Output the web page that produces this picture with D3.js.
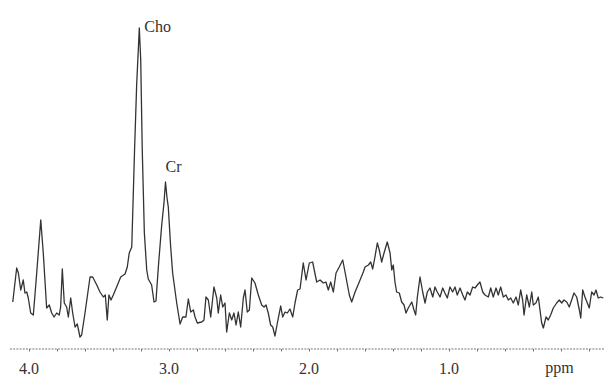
<!DOCTYPE html>
<html>
<head>
<meta charset="utf-8">
<script src="https://cdn.jsdelivr.net/npm/d3@7"></script>
<style>
  html, body { margin: 0; padding: 0; background: #fff; }
  svg { display: block; }
  text { font-family: "Liberation Serif", "Times New Roman", serif; fill: #333; }
</style>
</head>
<body>
<figure id="spectrum" style="margin:0"></figure>
<script>
// chemical shift (ppm) and signal intensity (arbitrary units)
const ppm = [4.116, 4.088, 4.076, 4.059, 4.041, 4.029, 4.016, 4.005, 3.988, 3.969,
  3.945, 3.916, 3.898, 3.874, 3.855, 3.838, 3.821, 3.802, 3.784, 3.774,
  3.762, 3.748, 3.731, 3.719, 3.702, 3.688, 3.671, 3.655, 3.636, 3.624,
  3.600, 3.584, 3.564, 3.545, 3.516, 3.493, 3.469, 3.455, 3.441, 3.429,
  3.414, 3.398, 3.374, 3.345, 3.314, 3.298, 3.284, 3.266, 3.246, 3.231,
  3.212, 3.202, 3.191, 3.176, 3.159, 3.148, 3.124, 3.107, 3.093, 3.074,
  3.052, 3.036, 3.025, 3.014, 3.005, 2.989, 2.974, 2.945, 2.921, 2.902,
  2.879, 2.862, 2.845, 2.826, 2.814, 2.798, 2.766, 2.750, 2.736, 2.719,
  2.702, 2.679, 2.659, 2.648, 2.631, 2.616, 2.600, 2.588, 2.569, 2.552,
  2.536, 2.521, 2.505, 2.488, 2.469, 2.457, 2.441, 2.426, 2.409, 2.386,
  2.362, 2.338, 2.321, 2.307, 2.291, 2.274, 2.259, 2.243, 2.226, 2.202,
  2.188, 2.171, 2.155, 2.136, 2.116, 2.100, 2.081, 2.064, 2.041, 2.021,
  1.998, 1.974, 1.945, 1.921, 1.898, 1.879, 1.862, 1.845, 1.826, 1.807,
  1.784, 1.759, 1.736, 1.712, 1.695, 1.671, 1.641, 1.612, 1.600, 1.576,
  1.559, 1.545, 1.529, 1.512, 1.498, 1.481, 1.464, 1.441, 1.421, 1.409,
  1.398, 1.386, 1.374, 1.355, 1.338, 1.321, 1.307, 1.291, 1.266, 1.250,
  1.238, 1.226, 1.207, 1.188, 1.171, 1.155, 1.136, 1.116, 1.100, 1.084,
  1.064, 1.045, 1.029, 1.012, 0.993, 0.974, 0.957, 0.941, 0.921, 0.902,
  0.886, 0.869, 0.850, 0.831, 0.814, 0.798, 0.779, 0.759, 0.743, 0.719,
  0.702, 0.684, 0.664, 0.648, 0.631, 0.612, 0.593, 0.576, 0.559, 0.541,
  0.521, 0.505, 0.488, 0.474, 0.464, 0.445, 0.426, 0.409, 0.398, 0.379,
  0.362, 0.350, 0.338, 0.326, 0.307, 0.291, 0.274, 0.255, 0.231, 0.212,
  0.195, 0.179, 0.159, 0.141, 0.124, 0.107, 0.088, 0.069, 0.059, 0.045,
  0.029, 0.012, -0.002, -0.019, -0.036, -0.050, -0.066, -0.084, -0.102]

const intensity = [47, 81, 76, 59, 69, 56, 57, 51, 36, 34,
  76, 129, 96, 41, 44, 36, 32, 36, 34, 42,
  80, 46, 42, 32, 51, 36, 22, 25, 12, 14,
  36, 52, 72, 72, 64, 57, 52, 54, 29, 54,
  49, 54, 62, 72, 75, 82, 96, 102, 199, 264,
  321, 289, 199, 116, 79, 70, 64, 47, 48, 86,
  124, 146, 167, 151, 142, 104, 76, 46, 25, 32,
  32, 50, 37, 39, 32, 26, 27, 29, 52, 49,
  32, 62, 51, 36, 54, 42, 46, 17, 36, 29,
  36, 24, 37, 22, 51, 59, 37, 39, 71, 66,
  54, 44, 42, 44, 36, 24, 22, 13, 26, 43,
  32, 37, 36, 40, 32, 46, 59, 60, 86, 69,
  86, 87, 67, 69, 66, 67, 59, 67, 57, 76,
  82, 89, 72, 54, 47, 57, 67, 77, 82, 84,
  87, 80, 92, 106, 99, 87, 96, 107, 96, 79,
  84, 67, 57, 56, 47, 44, 36, 41, 47, 39,
  34, 52, 72, 57, 46, 57, 61, 52, 62, 57,
  52, 61, 56, 51, 62, 57, 62, 54, 61, 54,
  49, 57, 54, 62, 61, 64, 67, 57, 54, 52,
  61, 52, 61, 54, 62, 52, 54, 49, 51, 46,
  52, 44, 59, 49, 34, 54, 42, 57, 44, 46,
  52, 39, 26, 21, 32, 29, 34, 41, 46, 49,
  46, 49, 47, 42, 49, 56, 52, 39, 31, 59,
  52, 46, 41, 57, 54, 59, 51, 52, 51]

const tickPpm = [4, 3, 2, 1]
const tickLabels = ["4.0", "3.0", "2.0", "1.0"]
const peakNames = ["Cho", "Cr"]
const peakPpm = [3.212, 3.025]
const peakHeight = [321, 167]

const width = 604
const height = 381
const axisY = 349

const svg = d3.select('figure#spectrum')
  .append("svg")
  .attr("width", width)
  .attr("height", height)

// reversed ppm axis, 140 px per ppm
const x = d3.scaleLinear()
  .domain([4.0, 0])
  .range([29, 589])

const y = d3.scaleLinear()
  .domain([0, axisY])
  .range([axisY, 0])

const points = ppm.map((p, i) => ({ ppm: p, value: intensity[i] }))

// axis: dashed base line with small ticks every 0.2 ppm
const axis = svg.append("g")
  .attr("transform", "translate(0," + axisY + ")")
  .call(d3.axisBottom(x)
    .tickValues(d3.range(4.0, -0.11, -0.2))
    .tickSize(2.5)
    .tickSizeOuter(0)
    .tickFormat(""))

axis.select(".domain")
  .attr("d", "M" + x(4.136) + ",0H" + width)
  .attr("stroke", "#777")
  .attr("stroke-width", 1)
  .attr("stroke-dasharray", "2,1.2")
axis.selectAll(".tick line").attr("stroke", "#777")

// tick labels
svg.append("g")
  .selectAll("text")
  .data(tickPpm)
  .enter().append("text")
  .attr("x", d => x(d))
  .attr("y", 374)
  .attr("text-anchor", "middle")
  .style("font-size", "16px")
  .text((d, i) => tickLabels[i])

svg.append("text")
  .attr("x", x(0.21))
  .attr("y", 373)
  .attr("text-anchor", "middle")
  .style("font-size", "16px")
  .text("ppm")

// spectrum trace
svg.append("path")
  .datum(points)
  .attr("fill", "none")
  .attr("stroke", "#333")
  .attr("stroke-width", 1.3)
  .attr("stroke-linejoin", "round")
  .attr("d", d3.line()
    .x(d => x(d.ppm))
    .y(d => y(d.value)))

// peak labels: Cho beside its tip, Cr just above its tip
svg.append("g")
  .selectAll("text")
  .data(peakNames)
  .enter().append("text")
  .attr("x", (d, i) => x(peakPpm[i]) + (i === 0 ? 5 : 0))
  .attr("y", (d, i) => y(peakHeight[i]) + (i === 0 ? 4 : -10))
  .style("font-size", "16px")
  .text(d => d)
</script>
</body>
</html>
